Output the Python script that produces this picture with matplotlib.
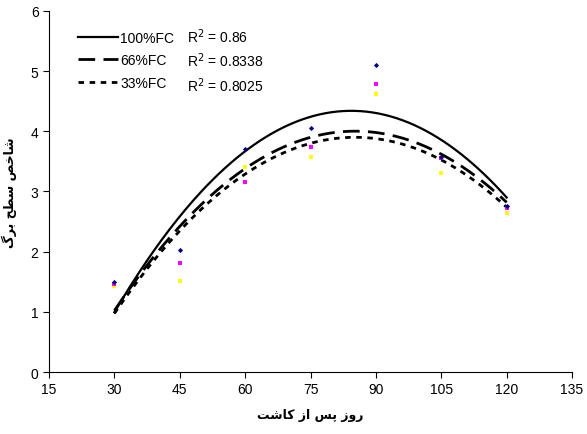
import numpy as np
import matplotlib.pyplot as plt

plt.rcParams['font.family'] = ['Liberation Sans', 'DejaVu Sans']

# روزهای نمونه برداری
dias = [30, 45, 60, 75, 90, 105, 120]

# نقاط مشاهده شده
obs_100 = [1.49, 2.02, 3.70, 4.05, 5.10, 3.57, 2.76]
obs_66 = [1.47, 1.81, 3.16, 3.74, 4.78, 3.55, 2.72]
obs_33 = [1.43, 1.51, 3.41, 3.58, 4.62, 3.30, 2.65]

# مقادیر خط روند (خوانده شده از تصویر)
fit_100 = [0.99, 2.59, 3.67, 4.24, 4.30, 3.86, 2.90]
fit_66 = [1.02, 2.42, 3.38, 3.90, 3.98, 3.62, 2.82]
fit_33 = [0.97, 2.35, 3.29, 3.80, 3.88, 3.52, 2.74]

etiquetas = ['100%FC', '66%FC', '33%FC']
r2 = ['0.86', '0.8338', '0.8025']

fig = plt.figure(figsize=(5.87, 4.35), dpi=100)
ax = fig.add_axes([0.0835, 0.1425, 0.891, 0.83])

xs = np.linspace(30, 120, 200)
estilos = ['-', (0, (6, 3)), (0, (2, 2))]
anchos = [1.6, 2.0, 2.0]
lineas = []
for fit, ls, lw, et in zip([fit_100, fit_66, fit_33], estilos, anchos, etiquetas):
    c = np.polyfit(dias, fit, 2)
    l, = ax.plot(xs, np.polyval(c, xs), color='black', linestyle=ls, lw=lw, label=et)
    lineas.append(l)

ax.scatter(dias, obs_33, s=6, marker='s', color='#ffff00', zorder=3, linewidths=0)
ax.scatter(dias, obs_66, s=6, marker='s', color='#ff00ff', zorder=3, linewidths=0)
ax.scatter(dias, obs_100, s=7, marker='D', color='#000080', zorder=3, linewidths=0)

ax.set_xlim(15, 135)
ax.set_ylim(0, 6)
ax.set_xticks(range(15, 136, 15))
ax.set_yticks(range(0, 7))
for s in ['top', 'right']:
    ax.spines[s].set_visible(False)
ax.tick_params(direction='out', length=4, labelsize=10, colors='black')

# متن فارسی به صورت شکل داده شده
xlabel = '\ufe96\ufeb7\ufe8e\ufb90 \ufeaf\ufe8d \ufeb2\ufb58 \ufeaf\ufeed\ufead'
ylabel = '\ufb92\ufeae\ufe91 \ufea2\ufec4\ufeb3 \ufeba\ufea7\ufe8e\ufeb7'
ax.set_xlabel(xlabel, fontsize=9, fontweight='bold', family=['DejaVu Sans'], labelpad=8)
ax.set_ylabel(ylabel, fontsize=9, fontweight='bold', family=['DejaVu Sans'], labelpad=10)

leg = ax.legend(handles=lineas, loc='upper left', bbox_to_anchor=(0.045, 0.96),
                frameon=False, fontsize=10, handlelength=2.9, handletextpad=0.15,
                labelspacing=0.6, borderaxespad=0)

for i, v in enumerate(r2):
    ax.text(0.263, 0.932 - i * 0.068, 'R$^2$ = ' + v, transform=ax.transAxes,
            fontsize=10, va='center')

fig.savefig('out.png', dpi=100)
